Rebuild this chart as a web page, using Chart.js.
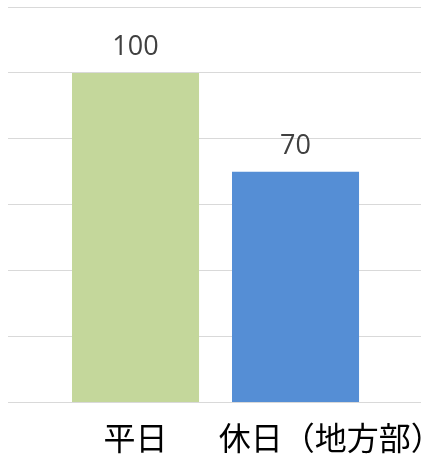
<!DOCTYPE html>
<html>
<head>
<meta charset="utf-8">
<script src="https://cdn.jsdelivr.net/npm/chart.js@4/dist/chart.umd.min.js"></script>
<style>
  html, body { margin: 0; padding: 0; background: #fff; overflow: hidden; }
</style>
</head>
<body>
<canvas id="chart" width="560" height="459"></canvas>
<script>
var categories = ['平日', '休日（地方部）'];
var values = [100, 70];
var barColors = ['#C4D79B', '#558ED5'];
var yTicks = [0, 20, 40, 60, 80, 100, 120];

// label position tweak (in category units), the second label sits right of its bar
var labelNudge = [0, 0.22];

var valueLabels = {
  id: 'valueLabels',
  afterDatasetsDraw: function(chart) {
    var ctx = chart.ctx;
    var meta = chart.getDatasetMeta(0);
    ctx.save();
    ctx.font = '27px "Open Sans", "Liberation Sans", sans-serif';
    ctx.fillStyle = '#404040';
    ctx.textAlign = 'center';
    ctx.textBaseline = 'alphabetic';
    meta.data.forEach(function(bar, i) {
      ctx.fillText(values[i], bar.x, bar.y - 18);
    });
    ctx.restore();
  }
};

var ctx = document.getElementById('chart');
var chart = new Chart(ctx, {
  type: 'bar',
  data: {
    datasets: [{
      data: values.map(function(v, i) { return { x: i, y: v }; }),
      backgroundColor: barColors,
      borderWidth: 0,
      categoryPercentage: 1,
      barPercentage: 0.794
    }]
  },
  options: {
    responsive: false,
    animation: false,
    layout: { padding: { left: 8, top: 7, right: 0, bottom: 0 } },
    plugins: { legend: { display: false }, tooltip: { enabled: false } },
    scales: {
      x: {
        type: 'linear',
        offset: false,
        bounds: 'data',
        min: -0.797,
        max: 2.653,
        grid: { display: false, offset: false },
        border: { display: false },
        afterBuildTicks: function(scale) {
          scale.ticks = categories.map(function(c, i) { return { value: i + labelNudge[i] }; });
        },
        afterFit: function(scale) {
          scale.height = 56.5;
        },
        ticks: {
          autoSkip: false,
          maxRotation: 0,
          padding: 8.5,
          color: '#000000',
          font: { family: '"Noto Sans CJK JP", sans-serif', size: 32 },
          callback: function(value, index) { return categories[index]; }
        }
      },
      y: {
        min: 0,
        max: 120,
        afterBuildTicks: function(scale) {
          scale.ticks = yTicks.map(function(v) { return { value: v }; });
        },
        grid: { color: '#D9D9D9', lineWidth: 1, drawTicks: false },
        border: { display: false },
        ticks: { display: false }
      }
    }
  },
  plugins: [valueLabels]
});
</script>
</body>
</html>
